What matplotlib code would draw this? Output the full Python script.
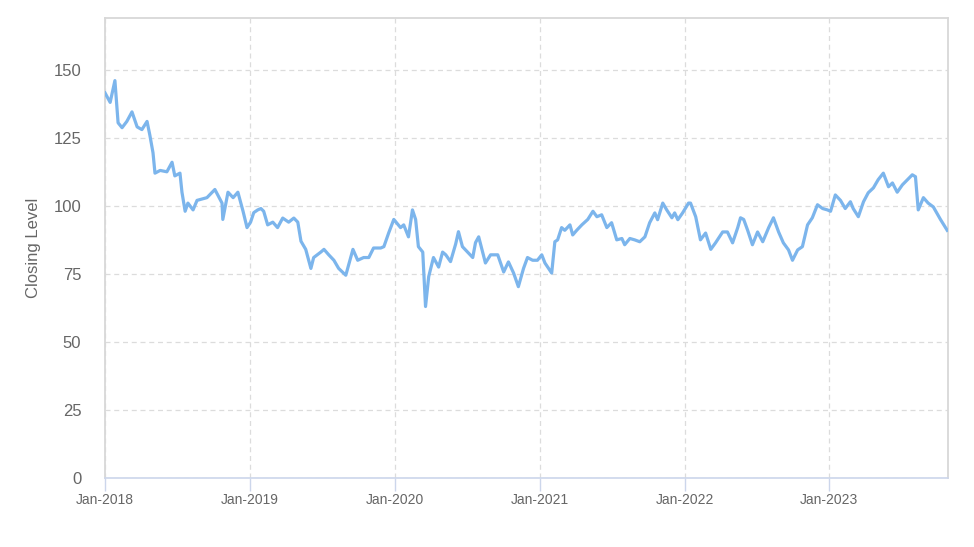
import matplotlib
matplotlib.use("Agg")
import matplotlib.pyplot as plt
import pandas as pd

dates = [
    # 2018
    "2018-01-01", "2018-01-14", "2018-01-26", "2018-02-03", "2018-02-13", "2018-02-25",
    "2018-03-10", "2018-03-23", "2018-04-04", "2018-04-17", "2018-04-24", "2018-05-02",
    "2018-05-07", "2018-05-20", "2018-06-06", "2018-06-19", "2018-06-26", "2018-07-09",
    "2018-07-14", "2018-07-22", "2018-07-29", "2018-08-11", "2018-08-21", "2018-09-15",
    "2018-10-05", "2018-10-23", "2018-10-25", "2018-11-07", "2018-11-20", "2018-12-02",
    "2018-12-15", "2018-12-25",
    # 2019
    "2019-01-03", "2019-01-11", "2019-01-21", "2019-01-29", "2019-02-05", "2019-02-15",
    "2019-02-28", "2019-03-12", "2019-03-25", "2019-04-09", "2019-04-22", "2019-05-02",
    "2019-05-10", "2019-05-22", "2019-06-04", "2019-06-11", "2019-06-29", "2019-07-07",
    "2019-07-19", "2019-08-01", "2019-08-13", "2019-08-31", "2019-09-18", "2019-09-30",
    "2019-10-15", "2019-10-28", "2019-11-09", "2019-11-27", "2019-12-05", "2019-12-17",
    "2019-12-30",
    # 2020
    "2020-01-16", "2020-01-24", "2020-02-05", "2020-02-15", "2020-02-23", "2020-03-01",
    "2020-03-12", "2020-03-19", "2020-03-27", "2020-04-08", "2020-04-21", "2020-05-01",
    "2020-05-09", "2020-05-21", "2020-06-03", "2020-06-10", "2020-06-20", "2020-07-03",
    "2020-07-16", "2020-07-23", "2020-07-31", "2020-08-10", "2020-08-17", "2020-08-30",
    "2020-09-17", "2020-10-02", "2020-10-14", "2020-10-27", "2020-11-08", "2020-11-21",
    "2020-12-01", "2020-12-14", "2020-12-26",
    # 2021
    "2021-01-06", "2021-01-14", "2021-01-21", "2021-01-31", "2021-02-08", "2021-02-15",
    "2021-02-25", "2021-03-05", "2021-03-18", "2021-03-25", "2021-04-04", "2021-04-17",
    "2021-05-02", "2021-05-15", "2021-05-25", "2021-06-06", "2021-06-19", "2021-07-01",
    "2021-07-14", "2021-07-27", "2021-08-03", "2021-08-16", "2021-08-28", "2021-09-10",
    "2021-09-23", "2021-10-05", "2021-10-18", "2021-10-25", "2021-11-07", "2021-11-17",
    "2021-11-30", "2021-12-07", "2021-12-15", "2021-12-27",
    # 2022
    "2022-01-11", "2022-01-16", "2022-01-29", "2022-02-05", "2022-02-10", "2022-02-23",
    "2022-03-08", "2022-03-20", "2022-04-07", "2022-04-19", "2022-05-02", "2022-05-15",
    "2022-05-22", "2022-05-30", "2022-06-09", "2022-06-21", "2022-07-04", "2022-07-17",
    "2022-08-01", "2022-08-13", "2022-08-26", "2022-09-07", "2022-09-20", "2022-09-30",
    "2022-10-13", "2022-10-25", "2022-11-07", "2022-11-19", "2022-12-02", "2022-12-15",
    "2022-12-27",
    # 2023
    "2023-01-04", "2023-01-16", "2023-01-29", "2023-02-10", "2023-02-23", "2023-03-02",
    "2023-03-15", "2023-03-28", "2023-04-09", "2023-04-22", "2023-05-04", "2023-05-17",
    "2023-05-30", "2023-06-09", "2023-06-21", "2023-07-04", "2023-07-17", "2023-07-29",
    "2023-08-06", "2023-08-13", "2023-08-26", "2023-09-07", "2023-09-20", "2023-10-08",
    "2023-10-25",
]

closing = [
    # 2018
    141.5, 138, 146, 130.5, 128.7, 131,
    134.5, 129, 128, 131, 126, 119.5,
    112, 113, 112.5, 116, 111, 112,
    105, 98, 101, 98.5, 102, 103,
    106, 101, 95, 105, 103, 105,
    98, 92,
    # 2019
    94, 97.5, 98.5, 99, 98, 93,
    94, 92, 95.5, 94, 95.5, 94,
    87, 84, 77, 81, 83, 84,
    82, 80, 77, 74.5, 84, 80,
    81, 81, 84.5, 84.5, 85, 90,
    95,
    # 2020
    92, 93, 88.6, 98.5, 95, 85,
    83, 63, 74, 81, 77.5, 83,
    82, 79.5, 86, 90.5, 85, 83,
    81, 86.5, 88.6, 83, 79, 82,
    82, 75.7, 79.4, 75.3, 70.3, 77,
    81, 80, 80,
    # 2021
    82, 79, 77.5, 75.3, 86.8, 87.5,
    92, 91, 93, 89.3, 91, 93,
    95, 98, 96, 96.7, 92, 93.8,
    87.5, 88, 85.7, 88, 87.5, 86.8,
    88.6, 93.8, 97.4, 94.9, 101, 98.5,
    95.6, 97.4, 94.9, 97.4,
    # 2022
    101, 101, 96, 91, 87.5, 90,
    84, 86.4, 90.4, 90.4, 86.4, 92,
    95.6, 95, 91, 85.7, 90.4, 86.8,
    92, 95.6, 90.4, 86.4, 83.8, 80,
    83.8, 85, 93, 95.6, 100.4, 99,
    98.5,
    # 2023
    98, 104, 102, 99, 101.5, 99,
    96, 101.5, 104.8, 106.6, 109.6, 112,
    107, 108.4, 105, 107.7, 109.6, 111.4,
    110.7, 98.5, 103, 101, 99.6, 95,
    91,
]

y_ticks = [0, 25, 50, 75, 100, 125, 150]
x_tick_dates = ["2018-01-01", "2019-01-01", "2020-01-01", "2021-01-01", "2022-01-01", "2023-01-01"]
x_tick_labels = ["Jan-2018", "Jan-2019", "Jan-2020", "Jan-2021", "Jan-2022", "Jan-2023"]

plt.rcParams["font.family"] = ["Liberation Sans", "DejaVu Sans"]

fig = plt.figure(figsize=(9.74, 5.47), dpi=100)
ax = fig.add_axes([0.1078, 0.1261, 0.8655, 0.8410])

x = pd.to_datetime(dates)
ax.plot(x, closing, color="#7cb5ec", linewidth=2.3, solid_joinstyle="round", zorder=3)

ax.set_xlim(pd.Timestamp("2018-01-01"), pd.Timestamp("2023-10-27"))
ax.set_ylim(0, 169)

ax.set_yticks(y_ticks)
ax.set_yticklabels([str(v) for v in y_ticks])
ax.set_xticks(pd.to_datetime(x_tick_dates))
ax.set_xticklabels(x_tick_labels)

ax.grid(True, color="#dcdcdc", linestyle=(0, (4, 3)), linewidth=0.9)
ax.set_axisbelow(True)

ax.tick_params(axis="y", length=0, pad=17, labelsize=12, labelcolor="#666666")
ax.tick_params(axis="x", length=9, width=1, color="#ccd6eb", pad=2, labelsize=10, labelcolor="#666666")

for side in ["top", "left", "right"]:
    ax.spines[side].set_color("#d8d8d8")
    ax.spines[side].set_linewidth(1.3)
ax.spines["bottom"].set_color("#ccd6eb")
ax.spines["bottom"].set_linewidth(1.2)

ax.set_ylabel("Closing Level", fontsize=12, color="#666666", labelpad=9)

fig.savefig("out.png", dpi=100)
